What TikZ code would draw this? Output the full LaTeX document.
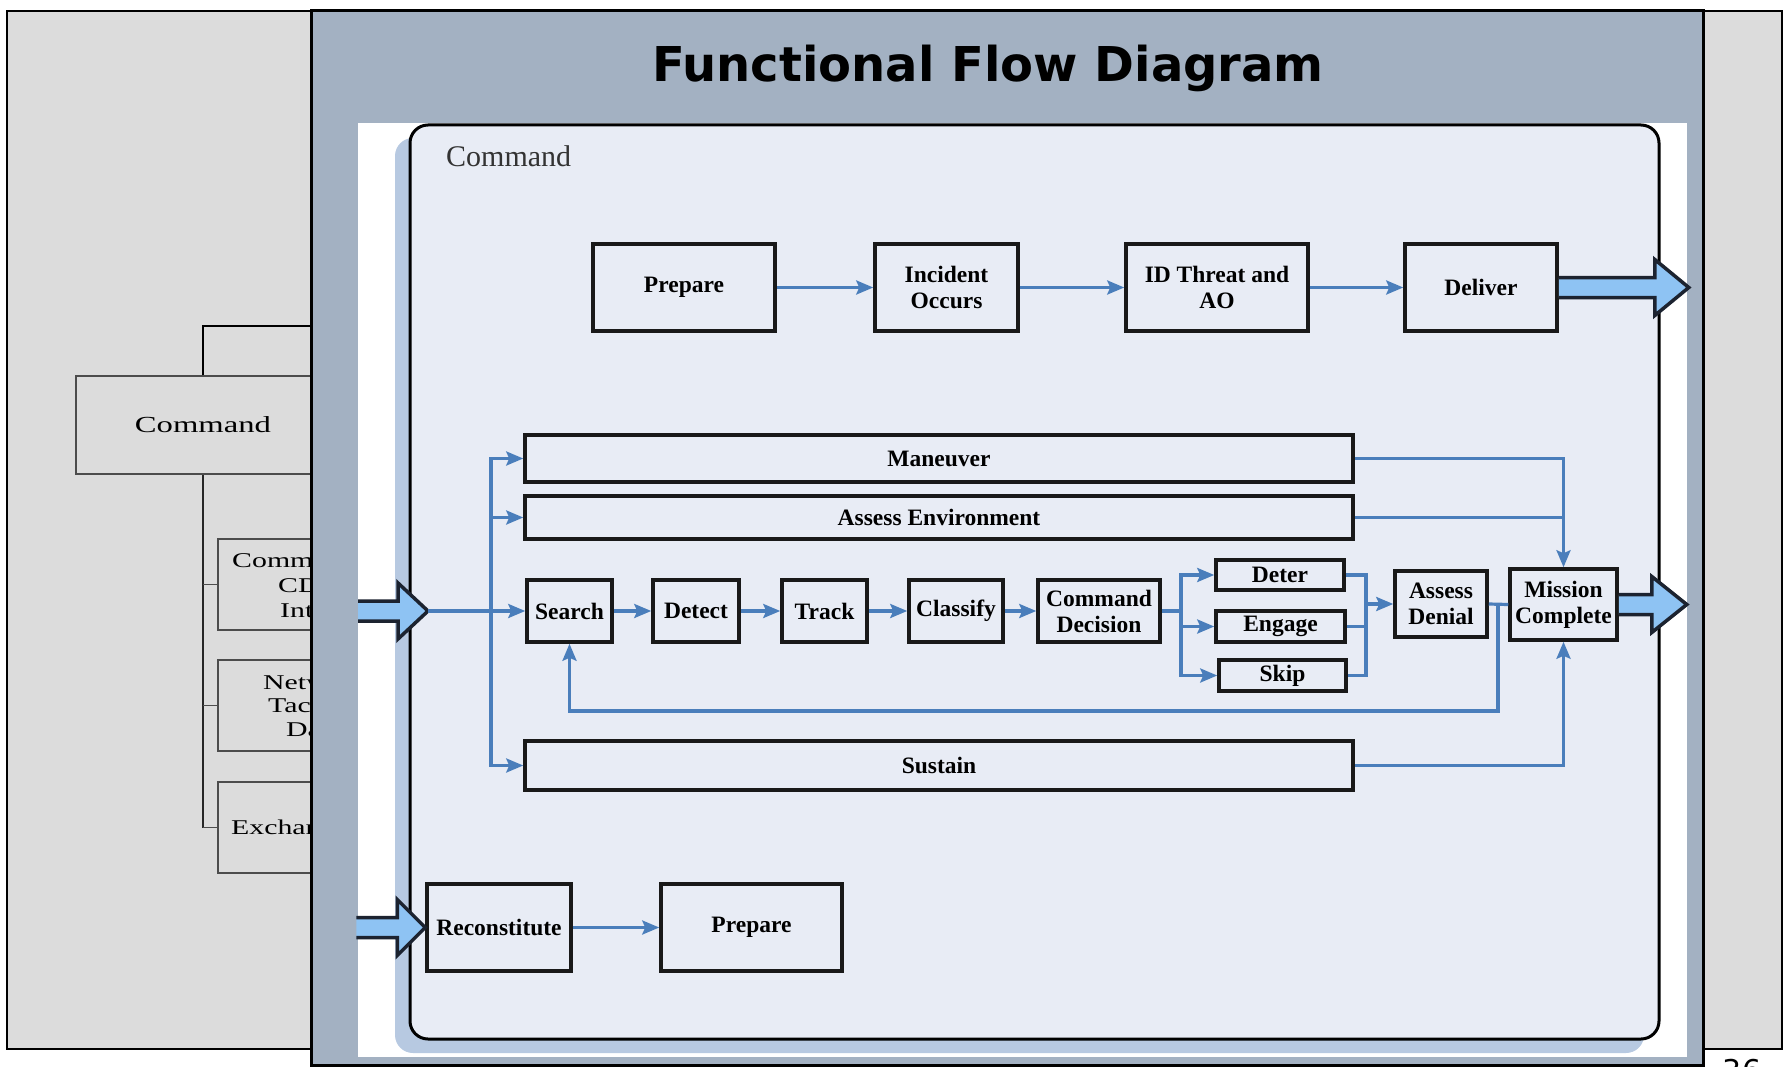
\documentclass[tikz,border=0pt]{standalone}
\usepackage{fontspec}
\usetikzlibrary{arrows.meta,calc}
\setmainfont{Liberation Serif}
\newfontfamily\titlefont{DejaVu Sans}
\newfontfamily\treefont[FakeStretch=1.42]{Liberation Serif}

\definecolor{slidegray}{HTML}{DCDCDC}
\definecolor{panelblue}{HTML}{A3B1C2}
\definecolor{framefill}{HTML}{E8ECF5}
\definecolor{frameshadow}{HTML}{B7C9E1}
\definecolor{flowblue}{HTML}{4A7EBB}
\definecolor{bigarrowfill}{HTML}{8EC3F3}
\definecolor{arrowedge}{HTML}{1C2330}

\tikzset{
  fbox/.style={draw=black!90, line width=3.5pt, inner sep=0pt, align=center,
    font=\fontsize{23.5}{26}\selectfont\bfseries},
  flow/.style={draw=flowblue, line width=3.2pt, -{Stealth[length=17pt,width=14pt,inset=3pt]}},
  flowline/.style={draw=flowblue, line width=3.2pt},
  blockarrowshape/.style={fill=bigarrowfill, draw=arrowedge, line width=3.5pt, line join=miter},
  treebox/.style={draw=black!70, line width=1.5pt, fill=slidegray, inner sep=0pt},
  treetext/.style={inner sep=0pt, anchor=base west, font=\treefont\fontsize{21}{24}\selectfont},
  pics/blockarrow/.style args={#1/#2}{code={
    \draw[blockarrowshape] (0,-10) -- (#1,-10) -- (#1,-28) -- (#1+#2,0) -- (#1,28) -- (#1,10) -- (0,10);
  }}
}

\begin{document}
\begin{tikzpicture}[x=1pt,y=-1pt]
\useasboundingbox (0,0) rectangle (1787,1067);
\fill[white] (0,0) rectangle (1787,1067);

% slide behind
\draw[fill=slidegray, line width=2.5pt] (7,11) rectangle (1782,1049);

% organisation tree on the slide behind
\node[treebox, minimum width=254pt, minimum height=98pt] (tcmd) at (203,425) {};
\node[font=\treefont\fontsize{23}{28}\selectfont] at (tcmd.center) {Command};
\draw[line width=2.2pt] (tcmd.north) -- ++(0,-49) -- ++(140,0);
\node[treebox, minimum width=200pt, minimum height=91pt, anchor=west] (tc1) at (217,584.5) {};
\node[treebox, minimum width=200pt, minimum height=91pt, anchor=west] (tc2) at (217,705.5) {};
\node[treebox, minimum width=200pt, minimum height=91pt, anchor=west] (tc3) at (217,827.5) {};
\draw[line width=1.8pt, black!85] (tcmd.south) -- (203,827.5);
\draw[line width=1.2pt, black!70] (203,584.5) -- (tc1.west);
\draw[line width=1.2pt, black!70] (203,705.5) -- (tc2.west);
\draw[line width=1.2pt, black!70] (203,827.5) -- (tc3.west);
\node[treetext] at (232,567) {Command};
\node[treetext] at (278,592) {CDR};
\node[treetext] at (280,617) {Interface};
\node[treetext] at (263,689) {Network};
\node[treetext] at (268,712) {Tactical};
\node[treetext] at (286,736) {Data};
\node[treetext] at (231,834) {Exchange};

% page number, running off the foot of the page
\node[anchor=north, inner sep=0pt, font=\titlefont\fontsize{30}{36}\selectfont] at (1742,1059) {36};

% front panel
\draw[fill=panelblue, line width=3pt] (311,11) rectangle (1703,1065);
\node[font=\titlefont\bfseries\fontsize{48}{56}\selectfont] at (988,68) {Functional Flow Diagram};

% picture area
\fill[white] (358,123) rectangle (1687,1057);
\fill[frameshadow, rounded corners=18pt] (395,138) rectangle (1644,1053);
\draw[fill=framefill, line width=3pt, rounded corners=18pt] (410,125) rectangle (1659,1039);
\node[anchor=base west, inner sep=0pt, text=black!80, font=\fontsize{30}{36}\selectfont] at (446,167) {Command};

% top row
\node[fbox, minimum width=182pt, minimum height=87pt] (prepA) at (684,287.5) {Prepare};
\node[fbox, minimum width=143pt, minimum height=87pt] (incident) at (946.5,287.5) {Incident\\Occurs};
\node[fbox, minimum width=182pt, minimum height=87pt] (idthreat) at (1217,287.5) {ID Threat and\\AO};
\node[fbox, minimum width=152pt, minimum height=87pt] (deliver) at (1481,287.5) {Deliver};

% parallel bars
\node[fbox, minimum width=828pt, minimum height=47pt] (maneuver) at (939,458.5) {Maneuver};
\node[fbox, minimum width=828pt, minimum height=43pt] (assessenv) at (939,517.5) {Assess Environment};
\node[fbox, minimum width=828pt, minimum height=49pt] (sustain) at (939,765.5) {Sustain};

% main chain
\node[fbox, minimum width=85pt, minimum height=62pt] (search) at (569.5,611) {Search};
\node[fbox, minimum width=86pt, minimum height=62pt] (detect) at (696,611) {Detect};
\node[fbox, minimum width=85pt, minimum height=62pt] (track) at (824.5,611) {Track};
\node[fbox, minimum width=94pt, minimum height=62pt] (classify) at (956,611) {Classify};
\node[fbox, minimum width=122pt, minimum height=62pt] (cmddec) at (1099,611) {Command\\Decision};
\node[fbox, minimum width=128pt, minimum height=30pt] (deter) at (1280,575) {Deter};
\node[fbox, minimum width=129pt, minimum height=31pt] (engage) at (1280.5,626.5) {Engage};
\node[fbox, minimum width=127pt, minimum height=31pt] (skip) at (1282.5,675.5) {Skip};
\node[fbox, minimum width=92pt, minimum height=66pt] (denial) at (1441,604) {Assess\\Denial};
\node[fbox, minimum width=107pt, minimum height=71pt] (mission) at (1563.5,604.5) {Mission\\Complete};

% bottom row
\node[fbox, minimum width=144pt, minimum height=87pt] (recon) at (499,927.5) {Reconstitute};
\node[fbox, minimum width=181pt, minimum height=87pt] (prepB) at (751.5,927.5) {Prepare};

% connectors: top row
\draw[flow] (prepA.east) -- (incident.west);
\draw[flow] (incident.east) -- (idthreat.west);
\draw[flow] (idthreat.east) -- (deliver.west);
\pic at (deliver.east) {blockarrow=96/34};

% entry and distribution
\pic at (358,611) {blockarrow=40/30};
\coordinate (entrytip) at (428,611);
\coordinate (split) at (491,611);
\draw[flow] (entrytip) -- (search.west);
\draw[flow] (split) |- (maneuver.west);
\draw[flow] (split) |- (assessenv.west);
\draw[flow] (split) |- (sustain.west);

% chain
\draw[flow] (search.east) -- (detect.west);
\draw[flow] (detect.east) -- (track.west);
\draw[flow] (track.east) -- (classify.west);
\draw[flow] (classify.east) -- (cmddec.west);
\coordinate (fork) at (1181,611);
\draw[flowline] (cmddec.east) -- (fork);
\draw[flow] (fork) |- (deter.west);
\draw[flow] (fork) |- (engage.west);
\draw[flow] (fork) |- (skip.west);
\coordinate (join) at (1366,604);
\draw[flowline] (deter.east) -| (join);
\draw[flowline] (engage.east) -| (join);
\draw[flowline] (skip.east) -| (join);
\draw[flow] (join) -- (denial.west);
\draw[flowline] (denial.east) -- (mission.west);
\coordinate (loop) at (1498,604);
\draw[flow] (loop) -- (1498,711) -| (search.south);

% bars into mission complete
\draw[flow] (maneuver.east) -| (mission.north);
\draw[flowline] (assessenv.east) -- (assessenv.east -| mission.north);
\draw[flow] (sustain.east) -| (mission.south);
\pic at (mission.east) {blockarrow=33/35};

% bottom row
\pic at ([xshift=-69pt]recon.west) {blockarrow=41/28};
\draw[flow] (recon.east) -- (prepB.west);
\end{tikzpicture}
\end{document}
